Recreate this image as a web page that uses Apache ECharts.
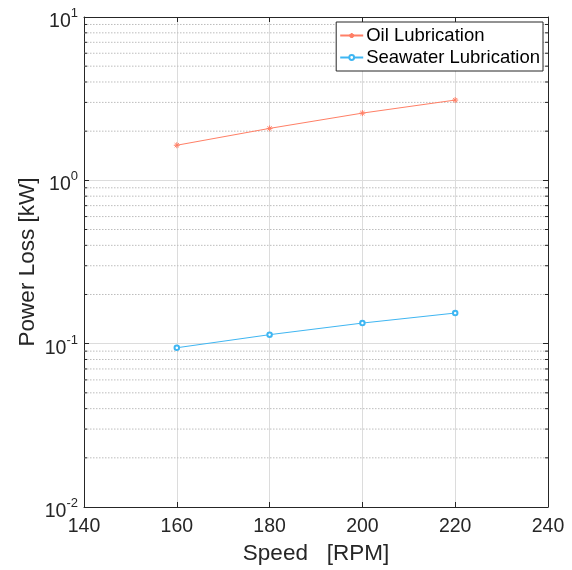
<!DOCTYPE html>
<html><head><meta charset="utf-8">
<script src="https://cdn.jsdelivr.net/npm/echarts@6/dist/echarts.min.js"></script>
<style>html,body{margin:0;padding:0;background:#fff}#c{width:572px;height:570px}</style>
</head><body><div id="c"></div>
<script>
const speeds = [160, 180, 200, 220];
const oilLoss = [1.64, 2.08, 2.58, 3.10];
const seaLoss = [0.0944, 0.1135, 0.1337, 0.154];
const xTicks = [140, 160, 180, 200, 220, 240];
const minorValues = [];
[0.01, 0.1, 1].forEach(d => { for (let k = 2; k <= 9; k++) minorValues.push(+(d * k).toPrecision(3)); });

const oilColor = '#FF7F66';
const seaColor = '#3FB6F2';
const axisColor = '#262626';
const font = 'Liberation Sans, Arial, Helvetica, sans-serif';
const asterisk = 'path://M5,0L5,10M0,5L10,5M1.5,1.5L8.5,8.5M8.5,1.5L1.5,8.5';

const chart = echarts.init(document.getElementById('c'), null, {renderer: 'canvas'});
const yLabel = v => {
  const e = Math.round(Math.log10(v));
  return '{b|10}{s|' + e + '}';
};
chart.setOption({
  animation: false,
  backgroundColor: '#fff',
  textStyle: {fontFamily: font},
  grid: {left: 84, right: 24, top: 17, bottom: 63},
  legend: {
    right: 29, top: 22, orient: 'vertical',
    backgroundColor: '#fff', borderColor: axisColor, borderWidth: 1, borderRadius: 0,
    padding: [4, 3, 4, 3], itemGap: 3, itemWidth: 23, itemHeight: 6,
    textStyle: {fontFamily: font, fontSize: 18.5, color: '#000', padding: [0, 0, 0, -2]},
    data: ['Oil Lubrication', 'Seawater Lubrication']
  },
  xAxis: [{
    type: 'value', min: 140, max: 240, interval: 20,
    name: 'Speed   [RPM]', nameLocation: 'middle', nameGap: 34,
    nameTextStyle: {fontFamily: font, fontSize: 22.5, color: '#262626'},
    axisLine: {show: true, lineStyle: {color: axisColor, width: 1}},
    axisTick: {show: true, inside: true, length: 5, lineStyle: {color: axisColor}},
    axisLabel: {fontFamily: font, fontSize: 19.5, color: '#262626', margin: 10,
      formatter: v => xTicks.includes(v) ? String(v) : ''},
    splitLine: {show: true, lineStyle: {color: '#dcdcdc', width: 1}}
  }, {
    type: 'value', min: 140, max: 240, interval: 20, position: 'top',
    axisLine: {show: true, onZero: false, lineStyle: {color: axisColor, width: 1}},
    axisTick: {show: true, inside: true, length: 5, lineStyle: {color: axisColor}},
    axisLabel: {show: false}, splitLine: {show: false}
  }],
  yAxis: [{
    type: 'log', logBase: 10, min: 0.01, max: 10,
    name: 'Power Loss [kW]', nameLocation: 'middle', nameGap: 45, nameMoveOverlap: false,
    nameTextStyle: {fontFamily: font, fontSize: 22.5, color: '#262626'},
    axisLine: {show: true, lineStyle: {color: axisColor, width: 1}},
    axisTick: {show: true, inside: true, length: 5, lineStyle: {color: axisColor}},
    axisLabel: {
      margin: 6, formatter: yLabel,
      rich: {
        b: {fontFamily: font, fontSize: 19.5, color: '#262626', padding: [9, 0, 0, 0]},
        s: {fontFamily: font, fontSize: 13, color: '#262626', padding: [0, 0, 7, 0]}
      }
    },
    splitLine: {show: true, lineStyle: {color: '#dcdcdc', width: 1}}
  }, {
    type: 'log', logBase: 10, min: 0.01, max: 10, position: 'right',
    axisLine: {show: true, onZero: false, lineStyle: {color: axisColor, width: 1}},
    axisTick: {show: true, inside: true, length: 5, lineStyle: {color: axisColor}},
    axisLabel: {show: false}, splitLine: {show: false}
  }],
  series: [{
    type: 'custom', name: 'minor', silent: true, z: 1,
    coordinateSystem: 'cartesian2d',
    data: minorValues.map(v => [140, v]),
    renderItem: (params, api) => {
      const p = api.coord([140, api.value(1)]);
      const q = api.coord([240, api.value(1)]);
      return {type: 'group', children: [
        {type: 'line', shape: {x1: p[0], y1: p[1], x2: q[0], y2: q[1]},
          style: {stroke: '#bdbdbd', lineWidth: 1, lineDash: [1.5, 1.5]}},
        {type: 'line', shape: {x1: p[0], y1: p[1], x2: p[0] + 3, y2: p[1]},
          style: {stroke: axisColor, lineWidth: 1}},
        {type: 'line', shape: {x1: q[0] - 3, y1: q[1], x2: q[0], y2: q[1]},
          style: {stroke: axisColor, lineWidth: 1}}
      ]};
    }
  }, {
    type: 'line', name: 'Oil Lubrication', z: 3,
    data: speeds.map((s, i) => [s, oilLoss[i]]),
    symbol: asterisk, symbolSize: 6,
    lineStyle: {color: oilColor, width: 1},
    itemStyle: {color: oilColor, borderColor: oilColor, borderWidth: 1}
  }, {
    type: 'line', name: 'Seawater Lubrication', z: 3,
    data: speeds.map((s, i) => [s, seaLoss[i]]),
    symbol: 'emptyCircle', symbolSize: 4.5,
    lineStyle: {color: seaColor, width: 1},
    itemStyle: {color: seaColor, borderColor: seaColor, borderWidth: 1}
  }]
});
</script></body></html>
